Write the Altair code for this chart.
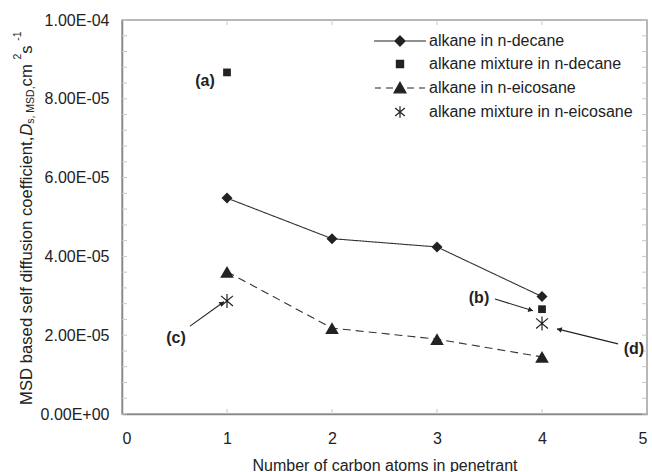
import math
import altair as alt
import pandas as pd

# ---------------- data ----------------
carbon = [1, 2, 3, 4]
decane = [5.48e-5, 4.45e-5, 4.24e-5, 2.98e-5]
eicosane = [3.61e-5, 2.18e-5, 1.90e-5, 1.45e-5]
mix_carbon = [1, 4]
mix_decane = [8.67e-5, 2.66e-5]
mix_eicosane = [2.87e-5, 2.30e-5]

names = ["alkane in n-decane", "alkane mixture in n-decane",
         "alkane in n-eicosane", "alkane mixture in n-eicosane"]

x_ticks = [0, 1, 2, 3, 4, 5]
y_ticks = [0, 2e-5, 4e-5, 6e-5, 8e-5, 1e-4]
y_tick_labels = ["0.00E+00", "2.00E-05", "4.00E-05", "6.00E-05", "8.00E-05", "1.00E-04"]
y_minor = [i * 4e-6 for i in range(26)]
x_minor = [1, 2, 3, 4]

ann_text = ["(a)", "(b)", "(c)", "(d)"]
ann_x = [0.79, 3.40, 0.514, 4.876]
ann_y = [8.45e-5, 2.94e-5, 1.93e-5, 1.65e-5]

arrow_x1 = [3.552, 0.648, 4.724]
arrow_y1 = [2.92e-5, 2.23e-5, 1.78e-5]
arrow_x2 = [3.914, 0.971, 4.143]
arrow_y2 = [2.62e-5, 2.85e-5, 2.16e-5]

# ---------------- layout ----------------
W, H = 525, 394
X_MAX, Y_MAX = 5, 1e-4
FONT = "Liberation Sans"
INK = "#222222"

rows = []
for x, y in zip(carbon, decane):
    rows.append({"series": names[0], "x": x, "y": y})
for x, y in zip(mix_carbon, mix_decane):
    rows.append({"series": names[1], "x": x, "y": y})
for x, y in zip(carbon, eicosane):
    rows.append({"series": names[2], "x": x, "y": y})
for x, y in zip(mix_carbon, mix_eicosane):
    rows.append({"series": names[3], "x": x, "y": y})
pts = pd.DataFrame(rows)

xscale = alt.Scale(domain=[0, X_MAX], nice=False, zero=False)
yscale = alt.Scale(domain=[0, Y_MAX], nice=False, zero=False)

step = y_ticks[1]
label_expr = "[" + ",".join("'%s'" % s for s in y_tick_labels) + "][round(datum.value/%g)]" % step

xaxis = alt.Axis(values=x_ticks, format="d", grid=False, ticks=False, labelFontSize=16, labelPadding=16,
                 labelColor=INK, labelFont=FONT, domainColor="#888888", domainWidth=1.5,
                 title="Number of carbon atoms in penetrant", titleFontSize=16, titleFont=FONT,
                 titleFontWeight="normal", titleColor=INK, titleBaseline="alphabetic", titleY=56)
yaxis = alt.Axis(values=y_ticks, grid=False, ticks=False, labelFontSize=16, labelPadding=13,
                 labelColor=INK, labelFont=FONT, labelExpr=label_expr, domainColor="#888888",
                 domainWidth=1.5, title=None)

ASTER = "M0,-1L0,1M-0.85,-0.72L0.85,0.72M-0.85,0.72L0.85,-0.72"

lines = alt.Chart(pts).transform_filter(
    alt.FieldOneOfPredicate(field="series", oneOf=[names[0], names[2]])
).mark_line(color="#333333", strokeWidth=1.1).encode(
    x=alt.X("x:Q", scale=xscale, axis=xaxis),
    y=alt.Y("y:Q", scale=yscale, axis=yaxis),
    strokeDash=alt.StrokeDash("series:N", scale=alt.Scale(domain=[names[0], names[2]],
                                                          range=[[1, 0], [8, 5]]), legend=None),
)

marker_styles = [
    (names[0], "diamond", 121, True),
    (names[1], "square", 60, True),
    (names[2], "triangle-up", 185, True),
    (names[3], ASTER, 196, False),
]
point_layers = []
for nm, shp, sz, filled in marker_styles:
    if filled:
        mk = alt.Chart(pts).mark_point(shape=shp, size=sz, filled=True, color=INK, opacity=1)
    else:
        mk = alt.Chart(pts).mark_point(shape=shp, size=sz, filled=False, color=INK, opacity=1,
                                       strokeWidth=1.2)
    point_layers.append(
        mk.transform_filter(alt.FieldEqualPredicate(field="series", equal=nm)).encode(x="x:Q", y="y:Q")
    )

# legend symbols: line + marker (unit = 6 px)
legend_paths = [
    "M-4.33,0L4.33,0M0,-0.85L0.85,0L0,0.85L-0.85,0Z",
    "M-0.6,-0.6L0.6,-0.6L0.6,0.6L-0.6,0.6Z",
    "M-4.17,0L-3.17,0M-2.33,0L-1.17,0M1.17,0L2.33,0M3.17,0L4.17,0M0,-0.95L1,0.8L-1,0.8Z",
    "M0,-0.95L0,0.95M-0.8,-0.68L0.8,0.68M-0.8,0.68L0.8,-0.68",
]
leg = alt.Legend(title=None, orient="none", legendX=270, legendY=13,
                 symbolSize=144, labelOffset=21, labelFontSize=16,
                 labelFont=FONT, labelColor=INK, rowPadding=7, padding=0,
                 labelLimit=400, symbolStrokeWidth=1.2, symbolOpacity=1)
legend_layer = alt.Chart(pts).transform_filter("datum.x > 100").mark_point(
    filled=False, color=INK, strokeWidth=1.2, opacity=1).encode(
    x="x:Q", y="y:Q",
    shape=alt.Shape("series:N", scale=alt.Scale(domain=names, range=legend_paths), legend=leg),
    fill=alt.Fill("series:N", scale=alt.Scale(domain=names, range=[INK] * 4), legend=leg),
)

# inside tick marks
ytk = pd.DataFrame({"v": y_minor})
xtk = pd.DataFrame({"v": x_minor})
TICK = "#c8c8c8"
left_t = alt.Chart(ytk).mark_rule(color=TICK).encode(y="v:Q", x=alt.value(0), x2=alt.value(5))
right_t = alt.Chart(ytk).mark_rule(color=TICK).encode(y="v:Q", x=alt.value(W - 5), x2=alt.value(W))
top_t = alt.Chart(xtk).mark_rule(color=TICK).encode(x="v:Q", y=alt.value(0), y2=alt.value(5))
bot_t = alt.Chart(xtk).mark_rule(color=TICK).encode(x="v:Q", y=alt.value(H - 5), y2=alt.value(H))

# annotations
ann = pd.DataFrame({"t": ann_text, "x": ann_x, "y": ann_y})
ann_layer = alt.Chart(ann).mark_text(font=FONT, fontSize=16, fontWeight="bold", color=INK,
                                     align="center", baseline="middle").encode(
    x="x:Q", y="y:Q", text="t:N")

px_x = W / X_MAX
px_y = H / Y_MAX
HEAD = 30
h_half = math.sqrt(3) * (math.sqrt(HEAD) / 2) / 2
arr_rows = []
for x1, y1, x2, y2 in zip(arrow_x1, arrow_y1, arrow_x2, arrow_y2):
    dxp = (x2 - x1) * px_x
    dyp = -(y2 - y1) * px_y
    L = math.hypot(dxp, dyp)
    ang = math.degrees(math.atan2(dxp, -dyp)) % 360
    hx = x2 - (dxp / L) * h_half / px_x
    hy = y2 + (dyp / L) * h_half / px_y
    arr_rows.append({"x1": x1, "y1": y1, "x2": x2, "y2": y2, "hx": hx, "hy": hy, "ang": ang})
arr = pd.DataFrame(arr_rows)
arrow_lines = alt.Chart(arr).mark_rule(color=INK, strokeWidth=1.1).encode(
    x="x1:Q", y="y1:Q", x2="x2:Q", y2="y2:Q")
arrow_heads = alt.Chart(arr).mark_point(shape="triangle-up", filled=True, color=INK, size=HEAD,
                                        opacity=1).encode(
    x="hx:Q", y="hy:Q", angle=alt.Angle("ang:Q", scale=None))

# y-axis title composed of pieces (Arial metrics)
WID = {' ': 278, '\u00a0': 278, ',': 278, '-': 333, '1': 556, '2': 556, 'M': 833, 'S': 667,
       'D': 722, 'a': 556, 'b': 556, 'c': 500, 'd': 556, 'e': 556, 'f': 278, 'i': 222,
       'l': 222, 'n': 556, 'o': 556, 's': 500, 't': 278, 'u': 556, 'm': 833}


def tw(s, size):
    return sum(WID.get(ch, 556) for ch in s) * size / 1000.0


MAIN, SMALL = 16.7, 10.5
BASE_X = -90
NB = "\u00a0"
pieces = [
    ("MSD based self diffusion coefficient,", MAIN, "normal", 0),
    ("D", MAIN, "italic", 0),
    ("s, MSD,", SMALL, "normal", 1.5),
    (NB + "cm", MAIN, "normal", 0),
    ("2", SMALL, "normal", -11),
    (NB + "s", MAIN, "normal", 0),
    ("-1", SMALL, "normal", -11),
]
title_layers = []
ypos = 405 - 20
for txt, size, style, shift in pieces:
    title_layers.append(
        alt.Chart(pd.DataFrame({"t": [txt]})).mark_text(
            font=FONT, fontSize=size, fontStyle=style, color=INK, angle=270,
            align="left", baseline="alphabetic").encode(
            text="t:N", x=alt.value(BASE_X + shift), y=alt.value(ypos))
    )
    ypos -= tw(txt, size)

chart = alt.layer(
    left_t, right_t, top_t, bot_t, lines, *point_layers, legend_layer, ann_layer,
    arrow_lines, arrow_heads, *title_layers
).properties(
    width=W, height=H,
    autosize=alt.AutoSizeParams(type="none"),
    padding={"left": 122, "top": 20, "right": 5, "bottom": 58},
    background="white",
).configure_view(stroke="#a0a0a0", strokeWidth=1.5)

chart.save("out.html", embed_options={"renderer": "svg", "actions": False})
